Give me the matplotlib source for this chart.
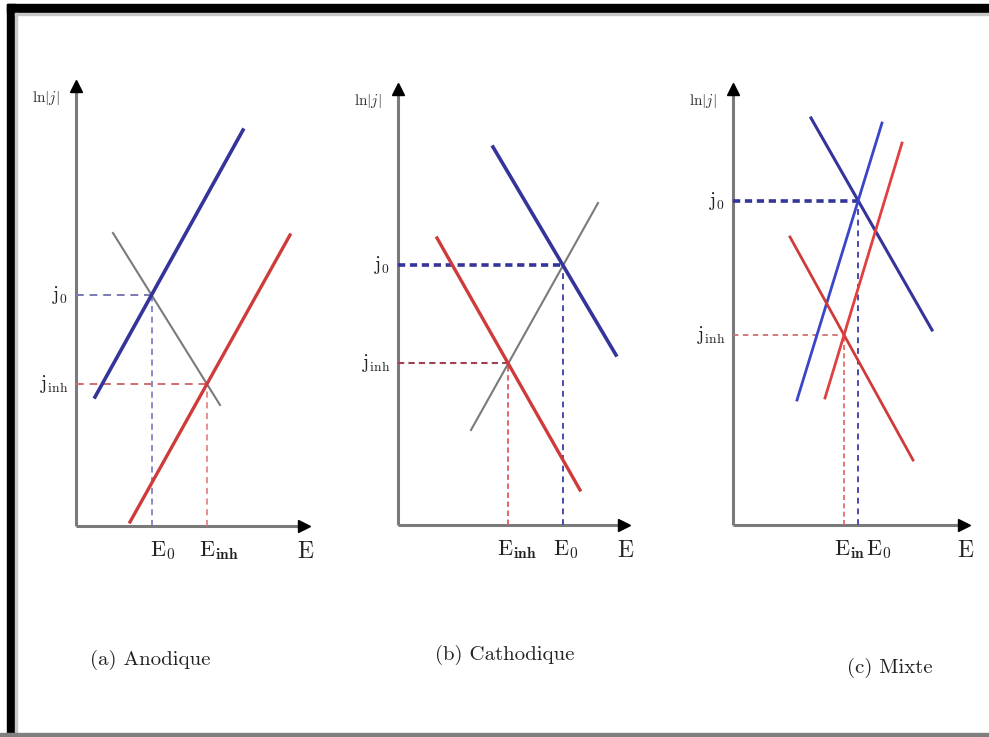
import matplotlib.pyplot as plt
from matplotlib.patches import Rectangle

plt.rcParams['mathtext.fontset'] = 'cm'

# Tafel lines (x = E, y = ln|j|, arbitrary units)
# (a) anodique
a_blue = ([0.475, 4.175], [3.225, 9.9])
a_red = ([1.35, 5.35], [0.1, 7.275])
a_gray = ([0.925, 3.6], [7.325, 3.025])
# (b) cathodique
b_blue = ([2.375, 5.45], [9.45, 4.25])
b_red = ([0.975, 4.55], [7.175, 0.875])
b_gray = ([1.825, 5.0], [2.375, 8.05])
# (c) mixte
c_blue_down = ([1.95, 4.975], [10.175, 4.875])
c_blue_up = ([1.6, 3.725], [3.125, 10.05])
c_red_down = ([1.425, 4.5], [7.2, 1.625])
c_red_up = ([2.3, 4.225], [3.175, 9.55])

titles = ['(a) Anodique', '(b) Cathodique', '(c) Mixte']
e_labels = [[r'$\mathrm{E}_0$', r'$\mathrm{E}_{\mathbf{inh}}$'],
            [r'$\mathrm{E}_{\mathbf{inh}}$', r'$\mathrm{E}_0$'],
            [r'$\mathrm{E}_{\mathbf{in}}$', r'$\mathrm{E}_0$']]
j_labels = [r'$\mathrm{j}_0$', r'$\mathrm{j}_{\mathrm{inh}}$']

BLUE = '#34349a'
BLUE2 = '#3a45c8'
RED = '#cf3b3b'
GRAY = '#7a7a7a'

W, H = 989, 737
fig = plt.figure(figsize=(W / 100, H / 100), dpi=100)

# frame around the picture
fig.add_artist(Rectangle((7 / W, 0), 8 / W, 733 / H, transform=fig.transFigure, color='black'))
fig.add_artist(Rectangle((7 / W, (H - 13) / H), (W - 7) / W, 9 / H, transform=fig.transFigure, color='black'))
fig.add_artist(Rectangle((15 / W, 0), 2 / W, (H - 13) / H, transform=fig.transFigure, color='#c8c8c8'))
fig.add_artist(Rectangle((15 / W, (H - 15) / H), (W - 15) / W, 2 / H, transform=fig.transFigure, color='#c8c8c8'))
fig.add_artist(Rectangle((0, 0), 1, 4 / H, transform=fig.transFigure, color='#808080'))


def cross(l1, l2):
    (x1, x2), (y1, y2) = l1
    (x3, x4), (y3, y4) = l2
    m1 = (y2 - y1) / (x2 - x1)
    m2 = (y4 - y3) / (x4 - x3)
    x = (y3 - y1 + m1 * x1 - m2 * x3) / (m1 - m2)
    return x, y1 + m1 * (x - x1)


def make_axes(ox, oy, xmax, ymax):
    s = 40
    ax = fig.add_axes([ox / W, (H - oy) / H, xmax * s / W, ymax * s / H])
    ax.set_xlim(0, xmax)
    ax.set_ylim(0, ymax)
    ax.axis('off')
    ax.plot([0, xmax - 0.1], [0, 0], color=GRAY, lw=2.2, clip_on=False, solid_capstyle='butt')
    ax.plot([0, 0], [0, ymax - 0.1], color=GRAY, lw=2.2, clip_on=False, solid_capstyle='butt')
    ax.plot(xmax - 0.1, 0, marker='>', color='black', ms=9, clip_on=False)
    ax.plot(0, ymax - 0.1, marker='^', color='black', ms=9, clip_on=False)
    ax.text(-0.75, ymax - 0.4, r'$\mathrm{ln}|j|$', fontsize=11, ha='center', va='center', color='#333333')
    ax.text(xmax - 0.05, -0.62, r'$\mathrm{E}$', fontsize=17, ha='center', va='center', color='#222222')
    return ax


def guides(ax, pt, hcol, vcol, hlw, vlw, hdash, vdash):
    ax.plot([0, pt[0]], [pt[1], pt[1]], color=hcol, lw=hlw, dashes=hdash)
    ax.plot([pt[0], pt[0]], [0, pt[1]], color=vcol, lw=vlw, dashes=vdash)


axes = [make_axes(76, 526, 5.8, 11.1), make_axes(398, 525, 5.75, 11.0), make_axes(733, 525, 5.875, 11.0)]

# (a)
ax = axes[0]
p0 = cross(a_blue, a_gray)
pi = cross(a_red, a_gray)
guides(ax, p0, '#7a7ab0', '#6a6ac0', 1.4, 1.1, (4, 3), (4, 3))
guides(ax, pi, '#d07070', '#e07070', 1.4, 1.1, (4, 3), (4, 3))
ax.plot(*a_gray, color=GRAY, lw=1.5)
ax.plot(*a_blue, color=BLUE, lw=2.6)
ax.plot(*a_red, color=RED, lw=2.4)

# (b)
ax = axes[1]
q0 = cross(b_blue, b_gray)
qi = cross(b_red, b_gray)
guides(ax, q0, BLUE, '#4a4ab0', 2.6, 1.4, (2, 1.3), (3, 2.5))
guides(ax, qi, '#a04050', '#e05a5a', 1.5, 1.3, (3, 2), (3, 2))
ax.plot(*b_gray, color=GRAY, lw=1.5)
ax.plot(*b_blue, color=BLUE, lw=2.6)
ax.plot(*b_red, color=RED, lw=2.4)

# (c)
ax = axes[2]
r0 = cross(c_blue_down, c_blue_up)
ri = cross(c_red_down, c_red_up)
guides(ax, r0, BLUE, '#4a4ab0', 2.6, 1.4, (2, 1.3), (3, 2.5))
guides(ax, ri, '#d07070', '#e06060', 1.3, 1.2, (3, 2.5), (3, 2))
ax.plot(*c_blue_down, color=BLUE, lw=2.2)
ax.plot(*c_blue_up, color=BLUE2, lw=2.0)
ax.plot(*c_red_down, color=RED, lw=2.0)
ax.plot(*c_red_up, color='#e04040', lw=2.0)

pts = [(p0, pi), (q0, qi), (r0, ri)]
e_order = [(0, 1), (1, 0), (1, 0)]
e_shift = [(-0.05, -0.2), (-0.28, -0.25), (-0.25, 0.2)]
title_pos = [(1.85, -3.35), (2.675, -3.25), (3.925, -3.575)]

for k, ax in enumerate(axes):
    j0pt, jipt = pts[k]
    ax.text(-0.2, j0pt[1], j_labels[0], fontsize=14, ha='right', va='center', color='#222222')
    ax.text(-0.2, jipt[1], j_labels[1], fontsize=14, ha='right', va='center', color='#222222')
    first, second = e_order[k]
    xs = [pts[k][first][0], pts[k][second][0]]
    for n in range(2):
        ax.text(xs[n] + e_shift[k][n], -0.62, e_labels[k][n], fontsize=16, ha='left', va='center',
                color='#222222')
    ax.text(title_pos[k][0], title_pos[k][1], titles[k], family='cmr10', fontsize=15,
            ha='center', va='center', color='#222222')

fig.savefig('out.png', dpi=100)
